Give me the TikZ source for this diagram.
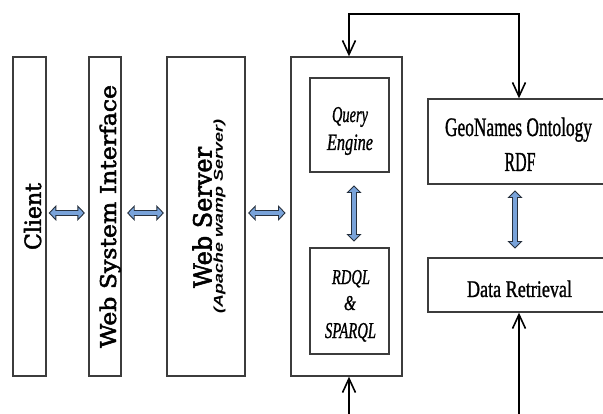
\documentclass[tikz,border=0pt]{standalone}
\usepackage{fontspec}
\setmainfont{Liberation Serif}
\newfontfamily\apachefont{Liberation Sans}
\newfontfamily\labfont[FakeBold=1.2]{Liberation Serif}
\newfontfamily\rotfont[FakeBold=2.2]{DejaVu Serif}
\usetikzlibrary{calc,arrows.meta}
\definecolor{boxc}{HTML}{3C3C3C}
\definecolor{fatfill}{HTML}{79A3DA}
\definecolor{fatline}{HTML}{26303D}
\newcommand{\fitbox}[3]{\resizebox{#1pt}{#2pt}{#3}}
\newcommand{\fitboxT}[3]{\resizebox*{#1pt}{#2pt}{#3}}
% horizontal double block arrow, #1 left end, #2 right end
\newcommand{\fatH}[2]{%
  \filldraw[fat] let \p1=#1, \p2=#2 in
  (\x1,\y1) -- (\x1+6.5pt,\y1+6.8pt) -- (\x1+6.5pt,\y1+2.5pt) -- (\x2-6.5pt,\y2+2.5pt)
  -- (\x2-6.5pt,\y2+6.8pt) -- (\x2,\y2) -- (\x2-6.5pt,\y2-6.8pt) -- (\x2-6.5pt,\y2-2.5pt)
  -- (\x1+6.5pt,\y1-2.5pt) -- (\x1+6.5pt,\y1-6.8pt) -- cycle;}
% vertical double block arrow, #1 top end, #2 bottom end
\newcommand{\fatV}[2]{%
  \filldraw[fat] let \p1=#1, \p2=#2 in
  (\x1,\y1) -- (\x1+6.5pt,\y1-6.5pt) -- (\x1+2.5pt,\y1-6.5pt) -- (\x2+2.5pt,\y2+6.5pt)
  -- (\x2+6.5pt,\y2+6.5pt) -- (\x2,\y2) -- (\x2-6.5pt,\y2+6.5pt) -- (\x2-2.5pt,\y2+6.5pt)
  -- (\x1-2.5pt,\y1-6.5pt) -- (\x1-6.5pt,\y1-6.5pt) -- cycle;}
\begin{document}
\begin{tikzpicture}[x=1pt,y=-1pt,
  box/.style={draw=boxc, line width=1.4, fill=white, inner sep=0},
  lbl/.style={inner sep=0, anchor=base},
  rlbl/.style={inner sep=0, anchor=base, rotate=90},
  conn/.style={line width=1.6, black},
  fat/.style={fill=fatfill, draw=fatline, line width=0.9, line join=miter},
  tip/.tip={Straight Barb[length=14pt,width=13pt,line width=1.6pt]}]
\useasboundingbox (0,0) rectangle (603,414);
\clip (0,0) rectangle (603,414);
\fill[white] (0,0) rectangle (603,414);

% boxes
\node[box, minimum width=33, minimum height=319] (client) at (29.5,216.5) {};
\node[box, minimum width=32, minimum height=319] (wsi) at (105,216.5) {};
\node[box, minimum width=78, minimum height=319] (ws) at (206,216.5) {};
\node[box, minimum width=111, minimum height=319] (big) at (346.5,216.5) {};
\node[box, minimum width=79, minimum height=94] (qe) at (349.5,125) {};
\node[box, minimum width=79, minimum height=106] (rdql) at (349.5,301) {};
\node[box, minimum width=182, minimum height=85] (geo) at (519,141.5) {};
\node[box, minimum width=182, minimum height=54] (dr) at (519,285) {};

% rotated labels
\node[rlbl] (clientlbl) at (41,216.5) {\fitbox{67}{17}{\rotfont Client}};
\node[rlbl] (wsilbl) at (116,216.5) {\fitbox{263}{16.5}{\rotfont Web System Interface}};
\node[rlbl] (wslbl) at (211.5,217.5) {\fitbox{141}{19}{\rotfont Web Server}};
\node[inner sep=0, rotate=90] (wssub) at (219.5,216.5) {\fitboxT{193}{12}{\apachefont\bfseries\itshape (Apache wamp Server)}};

% horizontal labels
\node[lbl] (qe1) at (350,122) {\fitbox{36}{15}{\labfont\itshape Query}};
\node[lbl] (qe2) at (350,150) {\fitbox{46}{15.5}{\labfont\itshape Engine}};
\node[lbl] (rd1) at (351,284) {\fitbox{38}{14}{\labfont\itshape RDQL}};
\node[lbl] (rd2) at (350,310) {\fitbox{12}{14}{\labfont\itshape\&}};
\node[lbl] (rd3) at (350.5,338) {\fitbox{51}{15}{\labfont\itshape SPARQL}};
\node[lbl] (geo1) at (518.5,136) {\fitbox{147}{18.5}{\labfont GeoNames Ontology}};
\node[lbl] (geo2) at (520,171) {\fitbox{31}{18}{\labfont RDF}};
\node[lbl] (drl) at (519.5,297) {\fitbox{105}{16.5}{\labfont Data Retrieval}};

% connector helper coordinates
\coordinate (row) at (0,213);
\coordinate (colq) at (354,0);
\coordinate (colg) at (515,0);
\coordinate (t1) at (349,14);
\coordinate (t2) at (519,14);
\coordinate (b1) at (349,420);
\coordinate (b2) at (519,420);

% block arrows
\fatH{($(client.east |- row)+(2.6,0)$)}{($(wsi.west |- row)+(-4,0)$)}
\fatH{($(wsi.east |- row)+(6,0)$)}{($(ws.west |- row)+(-3,0)$)}
\fatH{($(ws.east |- row)+(3,0)$)}{($(big.west |- row)+(-5.3,0)$)}
\fatV{($(qe.south -| colq)+(0,13.3)$)}{($(rdql.north -| colq)+(0,-6.3)$)}
\fatV{($(geo.south -| colg)+(0,6.3)$)}{($(dr.north -| colg)+(0,-9.3)$)}

% line connectors
\draw[conn, tip-tip] (big.north -| t1) -- (t1) -- (t2) -- (geo.north -| t2);
\draw[conn, -tip] (b1) -- (big.south -| b1);
\draw[conn, -tip] (b2) -- (dr.south -| b2);
\end{tikzpicture}
\end{document}
